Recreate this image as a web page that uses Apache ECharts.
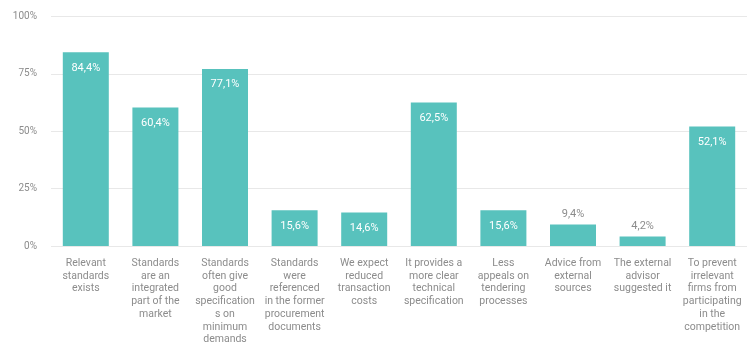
<!DOCTYPE html>
<html>
<head>
<meta charset="utf-8">
<script src="https://cdn.jsdelivr.net/npm/echarts@6/dist/echarts.min.js"></script>
<style>html,body{margin:0;padding:0;background:#fff;}#c{width:747px;height:346px;}</style>
</head>
<body>
<div id="c"></div>
<script>
const categories = [
  'Relevant\nstandards\nexists',
  'Standards\nare an\nintegrated\npart of the\nmarket',
  'Standards\noften give\ngood\nspecification\ns on\nminimum\ndemands',
  'Standards\nwere\nreferenced\nin the former\nprocurement\ndocuments',
  'We expect\nreduced\ntransaction\ncosts',
  'It provides a\nmore clear\ntechnical\nspecification',
  'Less\nappeals on\ntendering\nprocesses',
  'Advice from\nexternal\nsources',
  'The external\nadvisor\nsuggested it',
  'To prevent\nirrelevant\nfirms from\nparticipating\nin the\ncompetition'
];
const values = [84.4, 60.4, 77.1, 15.6, 14.6, 62.5, 15.6, 9.4, 4.2, 52.1];
const yTicks = [0, 25, 50, 75, 100];

const chart = echarts.init(document.getElementById('c'));
const fmt = v => v.toFixed(1).replace('.', ',') + '%';
chart.setOption({
  animation: false,
  grid: { left: 51, top: 16.5, width: 700.6, height: 230.5 },
  xAxis: {
    type: 'category',
    data: categories,
    axisLine: { show: false },
    axisTick: { show: false },
    axisLabel: { interval: 0, color: '#8c8c8c', fontSize: 10.5, lineHeight: 12.7, margin: 11, fontFamily: 'Roboto' }
  },
  yAxis: {
    type: 'value',
    min: yTicks[0], max: yTicks[yTicks.length - 1], interval: 25,
    axisLabel: { formatter: '{value}%', color: '#8c8c8c', fontSize: 10, margin: 14, fontFamily: 'Roboto' },
    splitLine: { lineStyle: { color: '#e8e8e8' } },
    axisLine: { show: false },
    axisTick: { show: false }
  },
  series: [{
    type: 'bar',
    barWidth: 46,
    data: values.map(v => ({
      value: v,
      label: v >= 12
        ? { show: true, position: 'insideTop', distance: 10, color: '#fff' }
        : { show: true, position: 'top', distance: 5, color: '#8c8c8c' }
    })),
    itemStyle: { color: '#58c2bd' },
    label: { fontSize: 11, fontFamily: 'Roboto', formatter: p => fmt(p.value) }
  }]
});
</script>
</body>
</html>
